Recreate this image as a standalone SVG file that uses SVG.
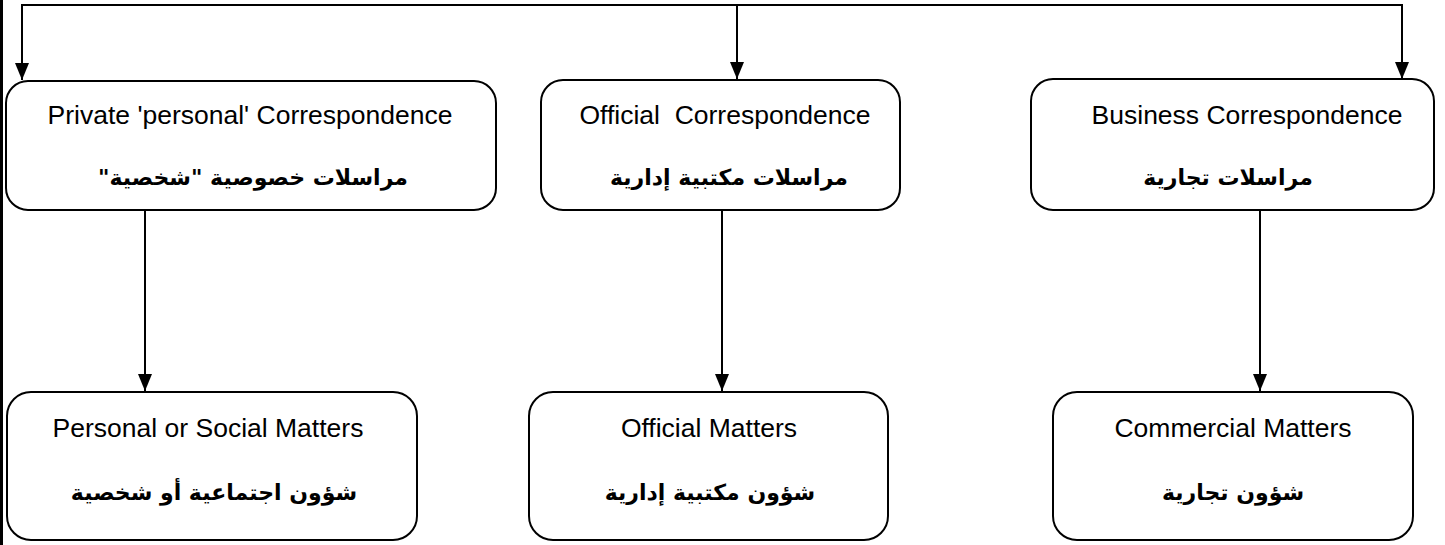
<svg xmlns="http://www.w3.org/2000/svg" width="1445" height="545" viewBox="0 0 1445 545">
<style>
.box{fill:#fff;stroke:#000;stroke-width:2}
.en{font-family:"Liberation Sans","DejaVu Sans",sans-serif;font-size:26.5px;fill:#000;text-anchor:middle}
.ar{font-family:"DejaVu Sans","Liberation Sans",sans-serif;font-size:22px;font-weight:bold;fill:#000;text-anchor:middle}
.con{stroke:#000;stroke-width:2;fill:none}
</style>
<defs>
<marker id="ah" markerUnits="userSpaceOnUse" markerWidth="17" markerHeight="14" refX="17" refY="7" orient="auto">
<path d="M0,0 L17,7 L0,14 Z" fill="#000"/>
</marker>
</defs>
<rect x="0" y="0" width="3" height="545" fill="#000"/>
<g id="connectors">
<line class="con" x1="21" y1="5" x2="1403" y2="5"/>
<line class="con" x1="22" y1="5" x2="22" y2="80" marker-end="url(#ah)"/>
<line class="con" x1="737" y1="5" x2="737" y2="79" marker-end="url(#ah)"/>
<line class="con" x1="1402" y1="5" x2="1402" y2="79" marker-end="url(#ah)"/>
<line class="con" x1="145" y1="210" x2="145" y2="391" marker-end="url(#ah)"/>
<line class="con" x1="722" y1="210" x2="722" y2="391" marker-end="url(#ah)"/>
<line class="con" x1="1260" y1="210" x2="1260" y2="391" marker-end="url(#ah)"/>
</g>
<g id="private">
<rect class="box" x="6" y="81" width="490" height="129" rx="22"/>
<text class="en" x="250" y="124">Private 'personal' Correspondence</text>
<text class="ar" x="253" y="185" direction="rtl" unicode-bidi="embed">مراسلات خصوصية "شخصية"</text>
</g>
<g id="official">
<rect class="box" x="541" y="80" width="359" height="130" rx="22"/>
<text class="en" x="725" y="124" xml:space="preserve">Official  Correspondence</text>
<text class="ar" x="729" y="185" direction="rtl" unicode-bidi="embed">مراسلات مكتبية إدارية</text>
</g>
<g id="business">
<rect class="box" x="1031" y="79" width="403" height="131" rx="22"/>
<text class="en" x="1247" y="124">Business Correspondence</text>
<text class="ar" x="1228" y="185" direction="rtl" unicode-bidi="embed">مراسلات تجارية</text>
</g>
<g id="personal-matters">
<rect class="box" x="7" y="392" width="410" height="148" rx="24"/>
<text class="en" x="208" y="437">Personal or Social Matters</text>
<text class="ar" x="214" y="500" direction="rtl" unicode-bidi="embed">شؤون اجتماعية أو شخصية</text>
</g>
<g id="official-matters">
<rect class="box" x="529" y="392" width="359" height="148" rx="24"/>
<text class="en" x="709" y="437">Official Matters</text>
<text class="ar" x="710" y="500" direction="rtl" unicode-bidi="embed">شؤون مكتبية إدارية</text>
</g>
<g id="commercial-matters">
<rect class="box" x="1053" y="392" width="360" height="148" rx="24"/>
<text class="en" x="1233" y="437">Commercial Matters</text>
<text class="ar" x="1233" y="500" direction="rtl" unicode-bidi="embed">شؤون تجارية</text>
</g>
</svg>
